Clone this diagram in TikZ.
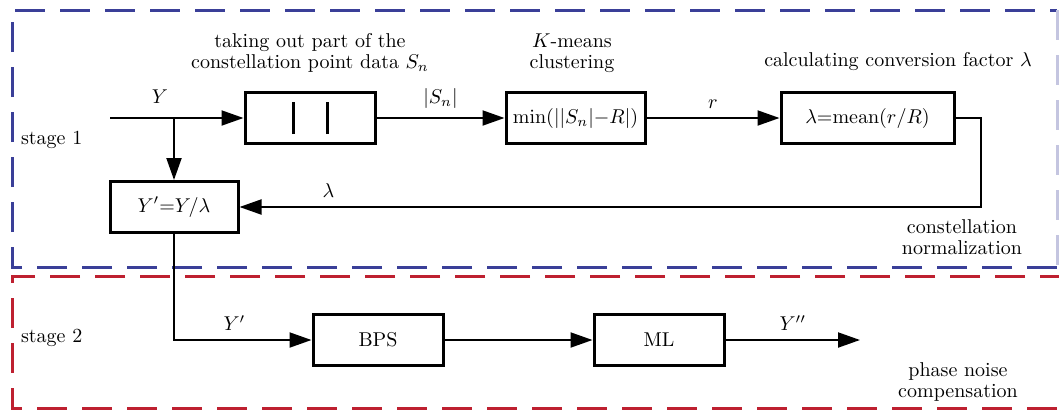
\documentclass[tikz,border=0pt]{standalone}
\usetikzlibrary{positioning,arrows.meta}
\definecolor{stageblue}{RGB}{58,63,152}
\definecolor{stagered}{RGB}{190,32,48}
\tikzset{
  blk/.style={draw, rectangle, line width=1.5pt, minimum height=25.5pt, inner sep=0pt},
  conn/.style={line width=1pt},
  arr/.style={conn, -{Triangle[length=11pt,width=7.5pt]}},
  note/.style={align=center, font=\fontsize{10}{10.5}\selectfont},
  bluebox/.style={stageblue, line width=1.5pt, dash pattern=on 15pt off 7.5pt},
  redbox/.style={stagered, line width=1.5pt, dash pattern=on 15pt off 7.5pt},
}
\begin{document}
\begin{tikzpicture}[x=0.5pt, y=-0.5pt]
    \useasboundingbox (0,0) rectangle (1059,413);
    \clip (0,0) rectangle (1059,413);

    % Stage frames
    \draw[bluebox] (1057,267) -- (12,267) -- (12,10) -- (1057,10);
    \draw[bluebox, stageblue!30] (1057,10) -- (1057,267);
    \draw[redbox] (1070,276) -- (12,276) -- (12,408) -- (1070,408);
    \node[anchor=west] (st1) at (14,140) {stage 1};
    \node[anchor=west] (st2) at (14,338) {stage 2};

    % Nodes
    \node[blk, minimum width=65pt] (abs) at (310,118) {};
    \node[blk, minimum width=69.5pt, right=64pt of abs] (kmin) {$\mathrm{min}(||S_n|{-}R|)$};
    \node[blk, minimum width=86.5pt, right=66.5pt of kmin] (lam) {$\lambda{=}\mathrm{mean}(r/R)$};
    \node[blk, minimum width=64pt] (norm) at (174,207) {$Y'{=}Y/\lambda$};
    \node[blk, minimum width=65pt] (bps) at (378,340) {BPS};
    \node[blk, minimum width=65pt, right=74pt of bps] (ml) {ML};
    \coordinate (in) at (110,118);
    \coordinate (br) at (norm.north |- in);
    \coordinate (out) at (860,340);

    % bars inside the abs block
    \draw[line width=1.5pt] ([xshift=-8.5pt, yshift=-8pt]abs.center) -- ([xshift=-8.5pt, yshift=8pt]abs.center);
    \draw[line width=1.5pt] ([xshift=8.5pt, yshift=-8pt]abs.center) -- ([xshift=8.5pt, yshift=8pt]abs.center);

    % Texts
    \node[note] (t1) at (310,53) {taking out part of the\\constellation point data $S_n$};
    \node[note] (t2) at (572,53) {$K$-means\\clustering};
    \node[note] (t3) at (898,62) {calculating conversion factor $\lambda$};
    \node[note] (t4) at (962,237) {constellation\\normalization};
    \node[note] (t5) at (958,382) {phase noise\\compensation};
    \node (ylab) at (160,97) {$Y$};

    % Arrows
    \draw[arr] (in) -- (abs);
    \draw[arr] (br) -- (norm);
    \draw[arr] (abs) -- node[above=1pt] {$|S_n|$} (kmin);
    \draw[arr] (kmin) -- node[above=1pt] {$r$} (lam);
    \draw[arr] (lam.east) -- ++(12.5pt,0) |- node[pos=0.94, above=1pt] {$\lambda$} (norm.east);
    \draw[arr] (norm.south) |- node[pos=0.72, above=1pt] {$Y'$} (bps.west);
    \draw[arr] (bps) -- (ml);
    \draw[arr] (ml) -- node[above=1pt] {$Y''$} (out);
\end{tikzpicture}
\end{document}
